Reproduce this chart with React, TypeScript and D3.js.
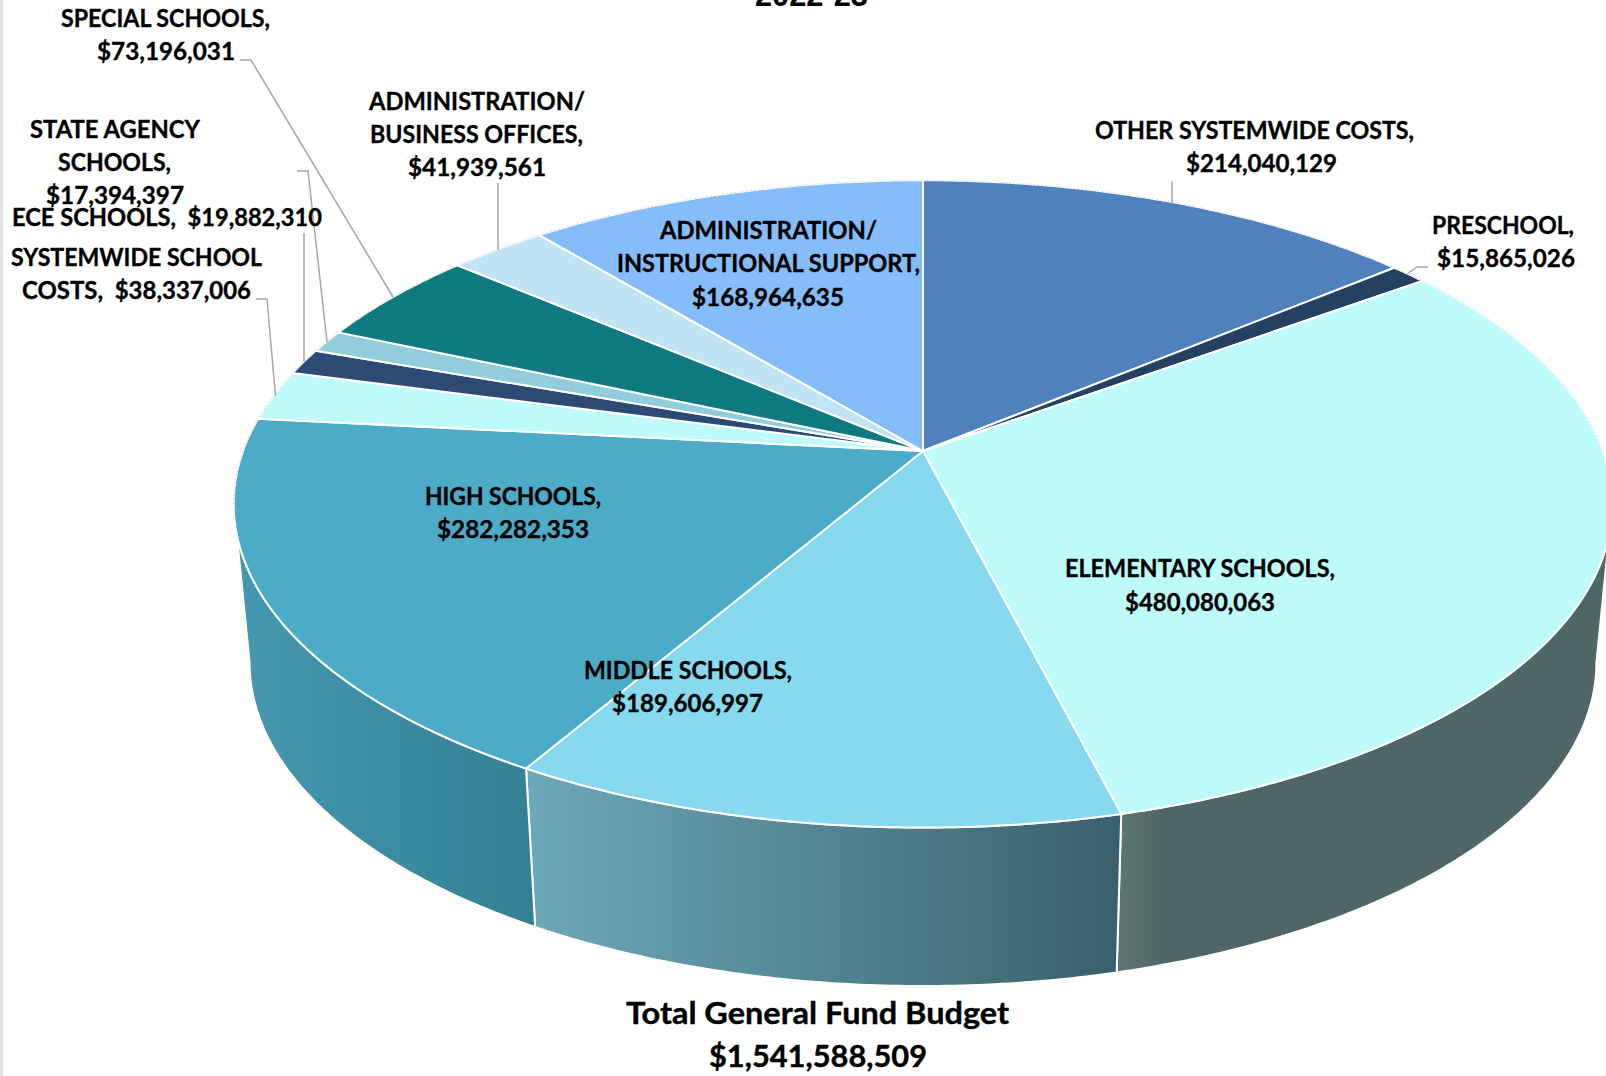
import React from "react";
import * as d3 from "d3";

// ---- data ----
const categories = [
  "OTHER SYSTEMWIDE COSTS",
  "PRESCHOOL",
  "ELEMENTARY SCHOOLS",
  "MIDDLE SCHOOLS",
  "HIGH SCHOOLS",
  "SYSTEMWIDE SCHOOL COSTS",
  "ECE SCHOOLS",
  "STATE AGENCY SCHOOLS",
  "SPECIAL SCHOOLS",
  "ADMINISTRATION/BUSINESS OFFICES",
  "ADMINISTRATION/INSTRUCTIONAL SUPPORT",
];
const values = [214040129, 15865026, 480080063, 189606997, 282282353, 38337006, 19882310, 17394397, 73196031, 41939561, 168964635];
const sliceColors = ["#4f81bd", "#254061", "#bdfbfc", "#86d9ee", "#4cabc6", "#c0fbfb", "#2c4a74", "#92cddc", "#0f7a80", "#c0e4f3", "#85bdfa"];
const title = "2022-23";
const totalLines = ["Total General Fund Budget", "$1,541,588,509"];

// ---- layout (label lines: text, left, right, centre y, in full-size pixels) ----
type Line = [string, number, number, number];
const labelLines: Line[] = [
  ["SPECIAL SCHOOLS,", 61, 270, 18.5],
  ["$73,196,031", 97, 235, 52],
  ["ADMINISTRATION/", 369, 585, 101.5],
  ["BUSINESS OFFICES,", 370, 583, 135],
  ["$41,939,561", 408, 546, 168],
  ["STATE AGENCY", 30, 200, 130],
  ["SCHOOLS,", 58, 171, 163],
  ["$17,394,397", 46, 184, 196],
  ["ECE SCHOOLS,  $19,882,310", 12, 322, 218],
  ["SYSTEMWIDE SCHOOL", 11, 262, 258],
  ["COSTS,  $38,337,006", 22, 251, 291],
  ["OTHER SYSTEMWIDE COSTS,", 1095, 1414, 131],
  ["$214,040,129", 1186, 1337, 164],
  ["PRESCHOOL,", 1432, 1574, 226],
  ["$15,865,026", 1437, 1575, 259],
  ["ADMINISTRATION/", 660, 877, 231],
  ["INSTRUCTIONAL SUPPORT,", 617, 920, 264],
  ["$168,964,635", 692, 844, 297.5],
  ["HIGH SCHOOLS,", 425, 601, 497],
  ["$282,282,353", 437, 589, 529.5],
  ["ELEMENTARY SCHOOLS,", 1065, 1335, 569],
  ["$480,080,063", 1125, 1275, 603],
  ["MIDDLE SCHOOLS,", 584, 792, 671],
  ["$189,606,997", 612, 763, 704],
];
const totalLayout: Line[] = [
  [totalLines[0], 626, 1009, 1013],
  [totalLines[1], 709, 927, 1056.5],
];
const leaders: [number, number][][] = [
  [[240, 60], [251, 60], [393, 297]],
  [[297, 171], [308, 171], [327, 342]],
  [[304, 233], [304, 362]],
  [[256, 299], [267, 299], [275.5, 396]],
  [[498, 183], [498, 250]],
  [[1172, 181], [1172, 203]],
  [[1428, 267], [1417, 267], [1407, 274]],
];

const cx = 923, cy = 451, A = 680, B = 315, K = 0.1635, DEPTH = 158.5, BOTTOM_SCALE = 0.977;

const project = (t: number, level: number): [number, number] => {
  const d = 1 + K * Math.cos(t);
  const x = (A * Math.sin(t)) / d;
  const y = (-B * Math.cos(t)) / d;
  return level === 0 ? [cx + x, cy + y] : [cx + BOTTOM_SCALE * x, cy + y + DEPTH];
};

const samples = (a: number, b: number) => {
  const n = Math.max(2, Math.ceil(Math.abs(b - a) / 0.01));
  return d3.range(n + 1).map((i) => a + ((b - a) * i) / n);
};

const line = d3.line<[number, number]>().x((d) => d[0]).y((d) => d[1]);
const pie = d3.pie<number>().sort(null).startAngle(0).endAngle(2 * Math.PI);
const arcs = pie(values);

const silhouette = Math.acos(-K);

// walls: elementary, middle, high
const walls = [
  { id: "wallE", i: 2, from: silhouette, to: arcs[2].endAngle, x1: 1115, x2: 1606, stops: [[0, "#5e7674"], [0.1, "#4e6766"], [1, "#4f6766"]] },
  { id: "wallM", i: 3, from: arcs[3].startAngle, to: arcs[3].endAngle, x1: 536, x2: 1115, stops: [[0, "#6ba8b8"], [1, "#3a616b"]] },
  { id: "wallH", i: 4, from: arcs[4].startAngle, to: 2 * Math.PI - silhouette, x1: 240, x2: 536, stops: [[0, "#4498af"], [1, "#338094"]] },
];

export default function App() {
  return (
    <svg
      width={1606}
      height={1076}
      viewBox="0 0 1606 1076"
      style={{ position: "absolute", left: 0, top: 0, display: "block", background: "#fff" }}
    >
      <defs>
        {walls.map((w) => (
          <linearGradient key={w.id} id={w.id} gradientUnits="userSpaceOnUse" x1={w.x1} x2={w.x2} y1={0} y2={0}>
            {w.stops.map(([o, c], j) => (
              <stop key={j} offset={o as number} stopColor={c as string} />
            ))}
          </linearGradient>
        ))}
      </defs>
      <rect x={0} y={0} width={3} height={1076} fill="#e2e2e2" />
      <text
        x={755}
        y={6}
        textLength={113}
        lengthAdjust="spacingAndGlyphs"
        fontFamily="'Liberation Sans', Arial, sans-serif"
        fontWeight={700}
        fontSize={31}
        fill="#000"
      >
        {title}
      </text>

      {walls.map((w) => {
        const ts = samples(w.from, w.to);
        const pts = [...ts.map((t) => project(t, 0)), ...ts.slice().reverse().map((t) => project(t, 1))];
        return <path key={w.id} d={(line(pts) as string) + "Z"} fill={`url(#${w.id})`} stroke="#fff" strokeWidth={2} strokeLinejoin="round" />;
      })}

      {arcs.map((a, i) => {
        const pts: [number, number][] = [[cx, cy], ...samples(a.startAngle, a.endAngle).map((t) => project(t, 0))];
        return (
          <path key={categories[i]} d={(line(pts) as string) + "Z"} fill={sliceColors[i]} stroke="#fff" strokeWidth={2} strokeLinejoin="round" />
        );
      })}

      <path
        d={line(samples(-silhouette, silhouette).map((t) => project(t, 0))) as string}
        fill="none"
        stroke="#cfcfcf"
        strokeWidth={0.7}
        strokeDasharray="2 2"
      />

      {leaders.map((pts, i) => (
        <path key={i} d={line(pts) as string} fill="none" stroke="#a6a6a6" strokeWidth={1.5} />
      ))}

      {labelLines.map(([s, l, r, y], i) => (
        <text
          key={i}
          x={l}
          y={y + 8}
          textLength={r - l}
          lengthAdjust="spacingAndGlyphs"
          fontFamily="Lato, sans-serif"
          fontWeight={700}
          fontSize={24}
          fill="#000"
          stroke="#000"
          strokeWidth={0.35}
          style={{ whiteSpace: "pre" }}
        >
          {s}
        </text>
      ))}
      {totalLayout.map(([s, l, r, y], i) => (
        <text
          key={i}
          x={l}
          y={y + 10.5}
          textLength={r - l}
          lengthAdjust="spacingAndGlyphs"
          fontFamily="Lato, sans-serif"
          fontWeight={700}
          fontSize={31}
          fill="#000"
          stroke="#000"
          strokeWidth={0.4}
        >
          {s}
        </text>
      ))}
    </svg>
  );
}
